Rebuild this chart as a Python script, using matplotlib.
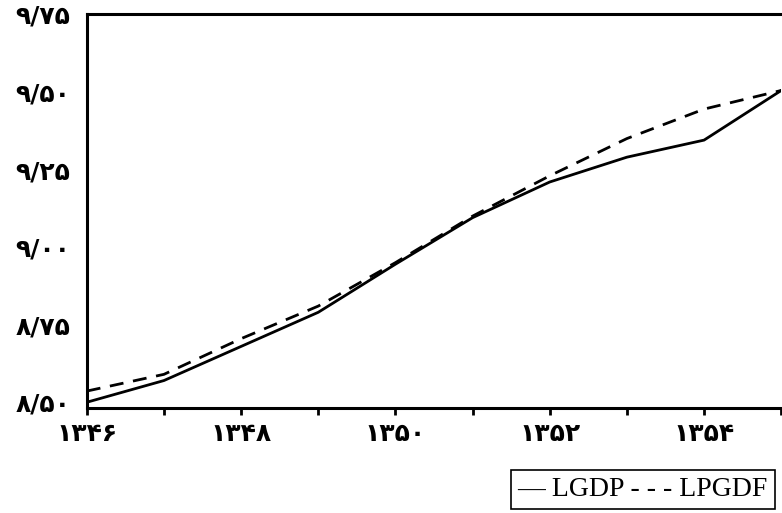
import matplotlib
matplotlib.use("Agg")
import matplotlib.pyplot as plt

years = [1346, 1347, 1348, 1349, 1350, 1351, 1352, 1353, 1354, 1355]
lgdp = [8.50, 8.57, 8.68, 8.79, 8.945, 9.095, 9.21, 9.29, 9.345, 9.505]
lpgdf = [8.536, 8.59, 8.705, 8.81, 8.95, 9.10, 9.23, 9.35, 9.445, 9.505]
yticks = [8.50, 8.75, 9.00, 9.25, 9.50, 9.75]

fa = str.maketrans("0123456789", "۰۱۲۳۴۵۶۷۸۹")

def fa_num(s):
    return s.translate(fa)

fig = plt.figure(figsize=(7.82, 5.13), dpi=100)
ax = fig.add_axes([0.111, 0.205, 0.888, 0.768])

ax.plot(years, lgdp, color="black", lw=2.0)
ax.plot(years, lpgdf, color="black", lw=2.0, ls=(0, (5, 3.5)))

ax.set_xlim(1346, 1355)
ax.set_ylim(8.482, 9.752)

ax.set_xticks(years)
ax.set_xticklabels([fa_num(str(y)) if y % 2 == 0 else "" for y in years])
ax.set_yticks(yticks)
ax.set_yticklabels([fa_num("%d/%02d" % (int(v), round((v - int(v)) * 100))) for v in yticks])

for lab in ax.get_xticklabels() + ax.get_yticklabels():
    lab.set_fontfamily("DejaVu Sans")
    lab.set_fontweight("bold")
    lab.set_fontsize(18)

ax.tick_params(axis="x", direction="out", length=5, width=2, pad=5)
ax.tick_params(axis="y", length=0, pad=12)

for side in ["left", "top", "bottom"]:
    ax.spines[side].set_linewidth(2.2)
ax.spines["right"].set_visible(False)

# legend as typed in the original: line sample + name, dashes + name
fig.text(0.822, 0.045, "— LGDP - - - LPGDF", ha="center", va="center",
         family="Liberation Serif", fontsize=20,
         bbox=dict(boxstyle="square,pad=0.25", fc="white", ec="black", lw=1.2))

fig.savefig("out.png", dpi=100)
